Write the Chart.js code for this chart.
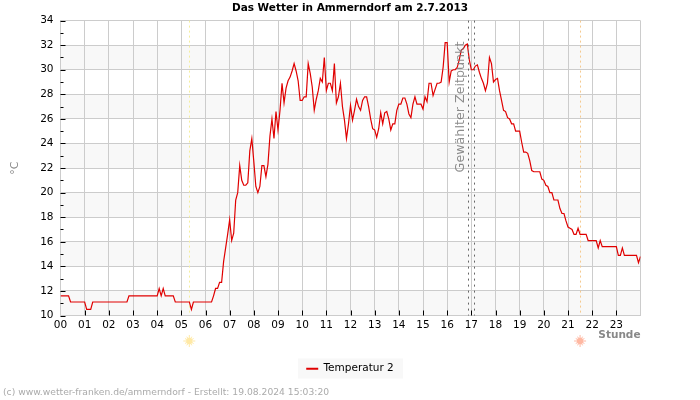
<!DOCTYPE html>
<html>
<head>
<meta charset="utf-8">
<title>Das Wetter in Ammerndorf</title>
<script src="https://cdn.jsdelivr.net/npm/chart.js@4"></script>
<style>
  html, body { margin: 0; padding: 0; background: #fff; }
  canvas { display: block; }
</style>
</head>
<body>
<canvas id="wetter" width="700" height="400"></canvas>
<script>
// Temperatur 2, one line per hour, one value every 5 minutes
const temperatures = [
  11.6, 11.6, 11.6, 11.6, 11.6, 11.1, 11.1, 11.1, 11.1, 11.1, 11.1, 11.1,
  11.1, 10.5, 10.5, 10.5, 11.1, 11.1, 11.1, 11.1, 11.1, 11.1, 11.1, 11.1,
  11.1, 11.1, 11.1, 11.1, 11.1, 11.1, 11.1, 11.1, 11.1, 11.1, 11.6, 11.6,
  11.6, 11.6, 11.6, 11.6, 11.6, 11.6, 11.6, 11.6, 11.6, 11.6, 11.6, 11.6,
  11.6, 12.2, 11.6, 12.2, 11.6, 11.6, 11.6, 11.6, 11.6, 11.1, 11.1, 11.1,
  11.1, 11.1, 11.1, 11.1, 11.1, 10.5, 11.1, 11.1, 11.1, 11.1, 11.1, 11.1,
  11.1, 11.1, 11.1, 11.1, 11.6, 12.2, 12.2, 12.7, 12.7, 14.4, 15.5, 16.6,
  17.8, 16.1, 16.7, 19.4, 20.0, 22.2, 21.0, 20.6, 20.6, 20.8, 23.4, 24.4,
  22.5, 20.5, 20.0, 20.5, 22.2, 22.2, 21.3, 22.3, 24.6, 26.0, 24.4, 26.6,
  25.1, 26.7, 28.9, 27.3, 28.5, 29.1, 29.4, 29.9, 30.5, 29.9, 29.1, 27.5,
  27.5, 27.8, 27.8, 30.5, 29.7, 28.6, 26.7, 27.6, 28.3, 29.3, 29.0, 31.0,
  28.3, 28.9, 28.9, 28.3, 30.5, 27.3, 27.8, 28.9, 27.0, 25.9, 24.4, 25.6,
  27.1, 25.9, 26.7, 27.6, 27.0, 26.7, 27.5, 27.8, 27.8, 27.0, 26.0, 25.2,
  25.1, 24.5, 25.2, 26.5, 25.6, 26.5, 26.6, 26.0, 25.1, 25.6, 25.6, 26.7,
  27.2, 27.2, 27.7, 27.7, 27.2, 26.4, 26.1, 27.2, 27.8, 27.2, 27.2, 27.2,
  26.8, 27.8, 27.4, 28.9, 28.9, 27.9, 28.4, 28.9, 28.9, 29.0, 30.2, 32.2,
  32.2, 29.0, 29.9, 30.0, 30.0, 30.2, 30.8, 31.6, 31.7, 32.0, 32.1, 30.8,
  30.0, 30.0, 30.3, 30.4, 29.8, 29.3, 28.9, 28.3, 28.9, 31.0, 30.5, 29.0,
  29.2, 29.3, 28.3, 27.5, 26.7, 26.6, 26.1, 26.0, 25.6, 25.6, 25.0, 25.0,
  25.0, 24.1, 23.3, 23.3, 23.2, 22.6, 21.8, 21.7, 21.7, 21.7, 21.7, 21.1,
  21.0, 20.6, 20.5, 20.0, 20.0, 19.4, 19.4, 19.4, 18.7, 18.3, 18.3, 17.7,
  17.2, 17.1, 17.0, 16.6, 16.6, 17.1, 16.6, 16.6, 16.6, 16.6, 16.1, 16.1,
  16.1, 16.1, 16.1, 15.5, 16.1, 15.6, 15.6, 15.6, 15.6, 15.6, 15.6, 15.6,
  15.6, 14.9, 14.9, 15.5, 14.9, 14.9, 14.9, 14.9, 14.9, 14.9, 14.9, 14.3,
  14.8
];
const samplesPerHour = 12;
const shadedBands = [[10, 12], [14, 16], [18, 20], [22, 24], [26, 28], [30, 32]];
const minorTempTicks = [11, 13, 15, 17, 19, 21, 23, 25, 27, 29, 31, 33];
const sunrise = 5.33;
const sunset = 21.5;
const selectedTime = [16.86, 17.11];

const points = temperatures.map((t, i) => ({ x: i / samplesPerHour, y: t }));
const font = 'DejaVu Sans';

function drawSun(ctx, x, y, color) {
  ctx.save();
  ctx.strokeStyle = color;
  ctx.fillStyle = color;
  ctx.lineWidth = 1;
  for (let i = 0; i < 12; i++) {
    const a = i * Math.PI / 6;
    ctx.beginPath();
    ctx.moveTo(x + Math.cos(a) * 3, y + Math.sin(a) * 3);
    ctx.lineTo(x + Math.cos(a) * (i % 3 === 0 ? 6 : 5), y + Math.sin(a) * (i % 3 === 0 ? 6 : 5));
    ctx.stroke();
  }
  ctx.beginPath();
  ctx.arc(x, y, 3.2, 0, Math.PI * 2);
  ctx.fill();
  ctx.restore();
}

function vLine(ctx, chart, hour, color, dash) {
  const px = Math.round(chart.scales.x.getPixelForValue(hour)) + 0.5;
  ctx.save();
  ctx.strokeStyle = color;
  ctx.lineWidth = 1;
  ctx.setLineDash(dash);
  ctx.beginPath();
  ctx.moveTo(px, chart.chartArea.top);
  ctx.lineTo(px, chart.chartArea.bottom);
  ctx.stroke();
  ctx.restore();
}

// Bands behind the grid, everything else the library has no option for on top
const extras = {
  id: 'extras',
  beforeDraw(chart) {
    const { ctx, chartArea: a, scales: { y } } = chart;
    ctx.save();
    ctx.fillStyle = '#f8f8f8';
    shadedBands.forEach(([lo, hi]) => {
      ctx.fillRect(a.left, y.getPixelForValue(hi), a.right - a.left, y.getPixelForValue(lo) - y.getPixelForValue(hi));
    });
    ctx.fillRect(298, chart.legend.top, 105, 20);
    ctx.restore();
  },
  beforeDatasetsDraw(chart) {
    const { ctx, chartArea: a, scales: { x, y } } = chart;
    vLine(ctx, chart, sunrise, '#f4ee9c', [2, 3]);
    vLine(ctx, chart, sunset, '#f5c98e', [2, 3]);
    ctx.save();
    ctx.strokeStyle = '#000';
    ctx.lineWidth = 1;
    ctx.beginPath();
    y.ticks.forEach(t => {
      const py = Math.round(y.getPixelForValue(t.value)) + 0.5;
      ctx.moveTo(a.left, py);
      ctx.lineTo(a.left + 5, py);
    });
    minorTempTicks.forEach(v => {
      const py = Math.round(y.getPixelForValue(v)) + 0.5;
      ctx.moveTo(a.left, py);
      ctx.lineTo(a.left + 3, py);
    });
    x.ticks.forEach(t => {
      if (t.value === 0 || t.value === 24) return;
      const px = Math.round(x.getPixelForValue(t.value)) + 0.5;
      ctx.moveTo(px, a.bottom);
      ctx.lineTo(px, a.bottom - 5);
    });
    ctx.stroke();
    ctx.restore();
  },
  afterDatasetsDraw(chart) {
    const { ctx, scales: { x } } = chart;
    selectedTime.forEach(h => vLine(ctx, chart, h, '#666', [2, 4]));
    ctx.save();
    ctx.translate(461, 107);
    ctx.rotate(-Math.PI / 2);
    ctx.font = '12.7px "' + font + '"';
    ctx.fillStyle = 'rgba(120,120,120,0.85)';
    ctx.textAlign = 'center';
    ctx.textBaseline = 'middle';
    ctx.fillText('Gewählter Zeitpunkt', 0, 0);
    ctx.restore();
    drawSun(ctx, x.getPixelForValue(sunrise), 341, '#ffe9a6');
    drawSun(ctx, x.getPixelForValue(sunset), 341, '#ffb8a2');
    ctx.save();
    ctx.font = '9.2px "' + font + '"';
    ctx.fillStyle = '#aaa';
    ctx.textBaseline = 'middle';
    ctx.fillText('(c) www.wetter-franken.de/ammerndorf - Erstellt: 19.08.2024 15:03:20', 3, 393);
    ctx.restore();
  }
};

window.onload = function() {
  const ctx = document.getElementById('wetter').getContext('2d');
  new Chart(ctx, {
    type: 'line',
    data: {
      datasets: [{
        label: 'Temperatur 2',
        data: points,
        borderColor: '#e00000',
        backgroundColor: '#e00000',
        borderWidth: 1.2,
        pointRadius: 0,
        tension: 0
      }]
    },
    options: {
      responsive: false,
      animation: false,
      layout: { padding: { top: 0, right: 0, bottom: 16, left: 0 } },
      plugins: {
        title: {
          display: true,
          text: 'Das Wetter in Ammerndorf am 2.7.2013',
          color: '#000',
          font: { family: font, size: 10.5, weight: 'bold' },
          padding: { top: 2, bottom: 6 },
          position: 'top'
        },
        legend: {
          position: 'bottom',
          labels: {
            color: '#000',
            boxWidth: 12,
            boxHeight: 0,
            padding: 5,
            font: { family: font, size: 10.5 },
            generateLabels: chart => Chart.defaults.plugins.legend.labels.generateLabels(chart)
              .map(item => ({ ...item, lineWidth: 2, strokeStyle: '#e00000' }))
          }
        },
        tooltip: { enabled: false }
      },
      scales: {
        x: {
          type: 'linear',
          min: 0,
          max: 24,
          afterFit: s => { s.height = 43; },
          afterBuildTicks: s => { s.ticks = s.ticks.filter(t => Number.isInteger(t.value)); },
          grid: { color: '#ccc', lineWidth: 1, drawTicks: false },
          border: { color: '#ccc' },
          title: {
            display: true,
            text: 'Stunde',
            align: 'end',
            color: '#888',
            font: { family: font, size: 10.5, weight: 'bold' },
            padding: { top: 0, bottom: 17 }
          },
          ticks: {
            stepSize: 1,
            autoSkip: false,
            maxRotation: 0,
            color: '#000',
            padding: 3.5,
            font: { family: font, size: 10.5 },
            callback: v => v === 24 ? '' : String(v).padStart(2, '0')
          }
        },
        y: {
          min: 10,
          max: 34,
          afterFit: s => { s.width = 60.5; },
          grid: { color: '#ccc', lineWidth: 1, drawTicks: false },
          border: { color: '#ccc' },
          title: {
            display: true,
            text: '°C',
            color: '#888',
            font: { family: font, size: 11 },
            padding: { top: 9, bottom: 0 }
          },
          ticks: {
            stepSize: 2,
            color: '#000',
            padding: 7,
            font: { family: font, size: 10.5 }
          }
        },
        // empty right margin, keeps title and legend centred on the page
        spacer: {
          type: 'linear',
          position: 'right',
          afterFit: s => { s.width = 59.5; },
          grid: { display: false },
          border: { display: false },
          ticks: { display: false }
        }
      }
    },
    plugins: [extras]
  });
};
</script>
</body>
</html>
